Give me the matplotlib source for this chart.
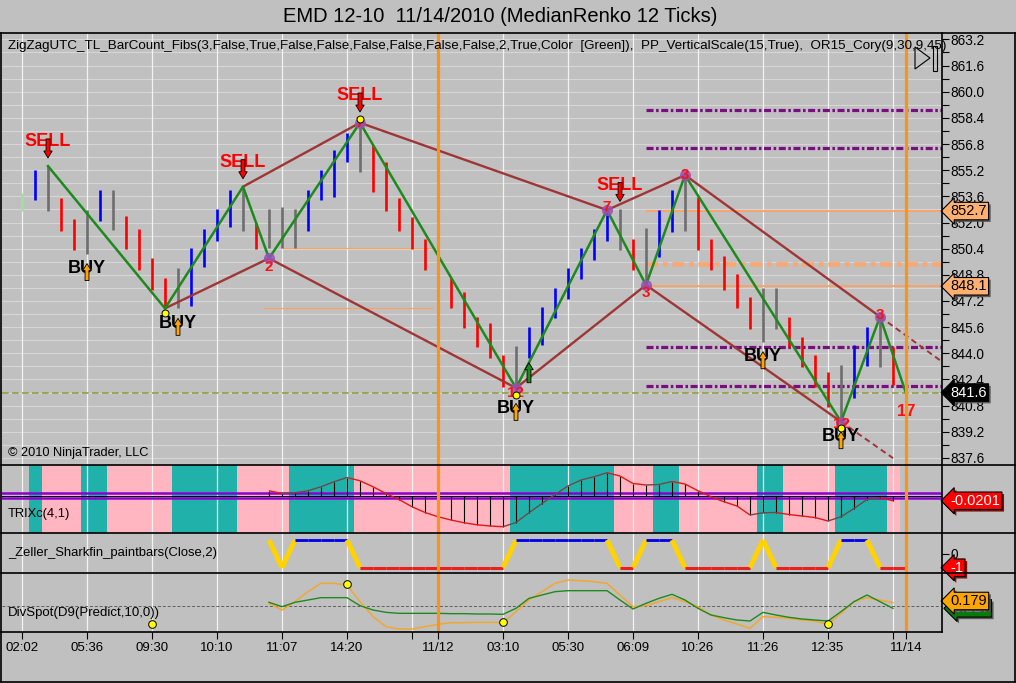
import matplotlib
matplotlib.use("Agg")
import matplotlib.pyplot as plt
import matplotlib.patheffects as pe
from matplotlib.lines import Line2D
from matplotlib.patches import Rectangle, Polygon
from matplotlib.collections import LineCollection
import numpy as np

plt.rcParams["font.family"] = ["Liberation Sans", "DejaVu Sans"]

W, H = 1016, 683
BG = "#C0C0C0"

# ---- price bars (MedianRenko), one entry per bar ----
bar_dir = ["g", "b", "n", "r", "r", "n", "b", "n", "r", "r",
           "r", "r", "n", "b", "b", "b", "b", "n", "r", "n",
           "n", "n", "b", "b", "b", "b", "n", "r", "r", "r",
           "r", "r", "r", "r", "r", "r", "r", "r", "n", "b",
           "b", "b", "b", "b", "b", "b", "n", "r", "n", "b",
           "b", "n", "r", "r", "r", "r", "r", "n", "n", "r",
           "r", "r", "r", "n", "b", "b", "n", "r", "r"]
bar_high = [853.8, 855.2, 855.46, 853.48, 852.2, 852.76, 853.99, 854.0, 852.4, 851.6,
            849.85, 848.62, 849.2, 850.42, 851.6, 852.8, 853.99, 854.19, 851.95, 852.8,
            852.97, 852.8, 854.0, 855.2, 856.43, 857.5, 858.27, 856.74, 855.72, 853.48,
            852.36, 851.0, 850.32, 848.59, 847.77, 846.24, 845.83, 843.9, 844.45, 845.63,
            846.85, 847.98, 849.2, 850.42, 851.6, 852.8, 852.8, 851.0, 851.64, 852.76,
            854.0, 855.0, 853.58, 851.0, 849.95, 848.84, 847.46, 848.01, 848.01, 846.24,
            845.02, 843.9, 842.87, 843.28, 844.51, 845.63, 846.34, 844.4, 843.9]
bar_low = [852.7, 853.35, 852.72, 851.5, 850.32, 850.1, 852.09, 851.54, 850.36, 849.1,
           847.87, 846.75, 846.75, 846.9, 849.26, 850.87, 851.74, 851.5, 850.36, 850.42,
           850.42, 850.42, 851.5, 853.37, 853.54, 855.72, 855.1, 853.88, 852.72, 851.5,
           850.36, 849.1, 847.87, 846.75, 845.53, 844.37, 843.69, 841.96, 841.55, 843.73,
           844.51, 846.14, 847.3, 848.53, 849.7, 850.87, 850.32, 849.1, 848.08, 849.9,
           851.44, 851.5, 850.32, 849.1, 847.87, 846.75, 845.47, 844.71, 845.47, 844.37,
           843.18, 841.96, 840.73, 839.82, 841.25, 843.22, 843.18, 842.06, 841.55]

# zigzag pivots
zz_idx = [2, 11, 17, 19, 26, 38, 45, 48, 51, 63, 66, 68]
zz_price = [855.45, 846.75, 854.19, 849.81, 858.1, 841.88, 852.76, 848.18, 854.9, 839.82, 846.24, 841.57]
tl_high_idx = [17, 26, 45, 51, 66]
tl_high_price = [854.19, 858.1, 852.76, 854.9, 846.24]
tl_low_idx = [11, 19, 38, 48, 63]
tl_low_price = [846.75, 849.81, 841.88, 848.18, 839.82]

# pivot bar counts
cnt_idx = [19, 26, 38, 45, 48, 51, 63, 66, 68]
cnt_price = [849.81, 858.1, 841.88, 852.76, 848.18, 854.9, 839.82, 846.24, 841.57]
cnt_text = ["2", "7", "12", "7", "3", "3", "12", "3", "17"]
cnt_dy = [-9, 0, -5, 3, -8, 0, -2, 2, -18]

sell_idx = [2, 17, 26, 46]
buy_idx = [5, 12, 38, 57, 63]
dot_idx = [11, 26, 38, 63]
dot_price = [846.45, 858.3, 841.45, 839.45]

# levels
or_lvls = [852.7, 848.1]
or_mid = 849.46
purple_lvls = [858.88, 856.54, 844.37, 842.02]
early_lvls = [850.42, 846.75]
last_price = 841.6

# ---- TRIXc(4,1), bars 19..67 ----
trix = [0.020, 0.009, 0.012, 0.020, 0.036, 0.056, 0.073, 0.060, 0.036, 0.009,
        -0.015, -0.044, -0.067, -0.084, -0.097, -0.108, -0.116, -0.121, -0.124, -0.107,
        -0.068, -0.031, 0.005, 0.039, 0.063, 0.076, 0.092, 0.079, 0.049, 0.043,
        0.045, 0.057, 0.047, 0.020, -0.004, -0.024, -0.041, -0.077, -0.068, -0.067,
        -0.075, -0.081, -0.087, -0.101, -0.084, -0.051, -0.015, -0.008, -0.020]
trix_start = 19
trix_shade = ["x", "t", "p", "p", "p", "t", "t", "p", "p", "p",
              "p", "p", "t", "t", "t", "t", "t", "p", "p", "p",
              "p", "t", "t", "t", "t", "t", "p", "p", "p", "p",
              "p", "p", "p", "p", "p", "p", "p", "p", "t", "t",
              "t", "t", "t", "t", "t", "t", "p", "p", "p", "t",
              "t", "p", "p", "p", "p", "p", "p", "t", "t", "p",
              "p", "p", "p", "t", "t", "t", "t", "p", "x"]

# ---- Sharkfin, bars 19..68 ----
shark = [1, -1, 1, 1, 1, 1, 1, -1, -1, -1,
         -1, -1, -1, -1, -1, -1, -1, -1, -1, 1,
         1, 1, 1, 1, 1, 1, 1, -1, -1, 1,
         1, 1, -1, -1, -1, -1, -1, -1, 1, -1,
         -1, -1, -1, -1, 1, 1, 1, -1, -1, -1]
shark_start = 19

# ---- DivSpot, bars 19..67 ----
div_green = [0.20, -0.06, 0.20, 0.34, 0.48, 0.48, 0.48, 0.0, -0.26, -0.40,
             -0.46, -0.46, -0.46, -0.46, -0.48, -0.48, -0.50, -0.50, -0.52, -0.16,
             0.44, 0.64, 0.84, 0.90, 0.90, 0.90, 0.90, 0.34, -0.20, 0.14,
             0.44, 0.68, 0.34, -0.16, -0.56, -0.72, -0.86, -0.92, -0.40, -0.56,
             -0.70, -0.80, -0.86, -0.92, -0.36, 0.24, 0.64, 0.24, -0.16]
div_orange = [0.14, -0.26, 0.24, 0.84, 1.34, 1.34, 1.24, 0.24, -0.66, -1.26,
              -1.40, -1.40, -1.26, -1.12, -1.02, -1.02, -1.00, -1.00, -1.02, -0.36,
              0.34, 0.84, 1.34, 1.54, 1.50, 1.44, 1.34, 0.64, -0.06, 0.0,
              0.24, 0.48, 0.24, -0.06, -0.56, -0.86, -1.10, -1.36, -0.66, -0.70,
              -0.76, -0.86, -0.92, -1.12, -0.46, 0.24, 0.48, 0.34, 0.18]
div_start = 19
div_dot_idx = [10, 25, 37, 62]
div_dot_val = [-1.12, 1.28, -1.0, -1.12]

# ---- time axis ----
tick_idx = [0, 5, 10, 15, 20, 25, 30, 32, 37, 42, 47, 52, 57, 62, 67, 68]
tick_lbl = ["02:02", "05:36", "09:30", "10:10", "11:07", "14:20", "", "11/12",
            "03:10", "05:30", "06:09", "10:26", "11:26", "12:35", "", "11/14"]
grid_idx = [0, 5, 10, 15, 20, 25, 30, 37, 42, 47, 52, 57, 62, 67]
session_idx = [32, 68]

fig = plt.figure(figsize=(W / 100, H / 100), dpi=100, facecolor=BG)


def box(x0, y0, x1, y1):
    return [x0 / W, 1 - y1 / H, (x1 - x0) / W, (y1 - y0) / H]


XL = ((2 - 22) / 13, (942 - 22) / 13)
ax = fig.add_axes(box(2, 33, 942, 465))
axt = fig.add_axes(box(2, 465, 942, 533))
axs = fig.add_axes(box(2, 533, 942, 573))
axd = fig.add_axes(box(2, 573, 942, 632))
for a in (ax, axt, axs, axd):
    a.set_facecolor(BG)
    a.set_xlim(*XL)
    for s in a.spines.values():
        s.set_visible(False)
    a.vlines(grid_idx, 0, 1, transform=a.get_xaxis_transform(), color="#F2F2F2", lw=0.9, zorder=1)
    for k in session_idx:
        a.axvline(k, color="#F7941D", lw=2.3, zorder=9)
    a.yaxis.tick_right()
    a.tick_params(axis="x", which="both", bottom=False, labelbottom=False)

# ---- price panel ----
ax.set_ylim(837.17, 863.59)
ax.set_yticks(np.arange(837.6, 863.3, 1.6))
ax.set_yticks(np.arange(838.4, 863.3, 1.6), minor=True)
ax.set_yticklabels(["%.1f" % v for v in np.arange(837.6, 863.3, 1.6)])
ax.tick_params(axis="y", which="both", direction="out", length=5, width=0.8, labelsize=9.8, pad=1)
ax.grid(True, axis="y", which="both", color="#D6D6D6", lw=0.8, zorder=0)
ax.set_axisbelow(True)

col = {"g": "#9EE09E", "b": "#0000FF", "r": "#FF0000", "n": "#6E6E6E"}
idx = np.arange(len(bar_high))
ax.vlines(idx, bar_low, bar_high, colors=[col[c] for c in bar_dir], lw=1.9, zorder=3)

# levels
ax.axhline(last_price, color="#8FA040", lw=1.2, ls=(0, (4, 2)), zorder=2)
ax.hlines(early_lvls[0], 20, 31.6, color="#FFA060", lw=0.8, zorder=2)
ax.hlines(early_lvls[1], 18.5, 31.6, color="#FFA060", lw=0.8, zorder=2)
ax.hlines(or_lvls, 48, XL[1], color="#FFA060", lw=1.3, zorder=2)
ax.hlines(or_mid, 48, XL[1], color="#F8A875", lw=3.4, ls=(0, (2.5, 1, 1, 1)), zorder=2)
ax.hlines(purple_lvls, 48, XL[1], color="#7A0E80", lw=2.3, ls=(0, (2.2, 0.8, 0.8, 0.8)), zorder=2)

# trend lines with dashed projections
ax.plot(tl_high_idx, tl_high_price, color="#A03535", lw=1.7, zorder=4)
ax.plot(tl_low_idx, tl_low_price, color="#A03535", lw=1.7, zorder=4)
sh = (tl_high_price[-1] - tl_high_price[-2]) / (tl_high_idx[-1] - tl_high_idx[-2])
sl = (tl_low_price[-1] - tl_low_price[-2]) / (tl_low_idx[-1] - tl_low_idx[-2])
ax.plot([tl_high_idx[-1], XL[1]], [tl_high_price[-1], tl_high_price[-1] + sh * (XL[1] - tl_high_idx[-1])],
        color="#A03535", lw=1.4, ls=(0, (3, 2)), zorder=4)
ax.plot([tl_low_idx[-1], 67], [tl_low_price[-1], tl_low_price[-1] + sl * (67 - tl_low_idx[-1])],
        color="#A03535", lw=1.4, ls=(0, (3, 2)), zorder=4)

ax.plot(zz_idx, zz_price, color="#1E8A1E", lw=1.8, zorder=5)
ax.plot(zz_idx[3:11], zz_price[3:11], "o", ms=8, color="#9A4FB8", alpha=0.85, mec="none", zorder=6)
for k, p, t, dy in zip(cnt_idx, cnt_price, cnt_text, cnt_dy):
    ax.annotate(t, (k, p), xytext=(0, dy * 0.72), textcoords="offset points", ha="center", va="center",
                color="#FF1010", fontsize=12 if t == "17" else 11, fontweight="bold", zorder=7)


def arrow(k, p, tail_px, tip_px, fc):
    ax.annotate("", xy=(k, p), xytext=(0, tail_px * 0.72), textcoords="offset points",
                arrowprops=dict(arrowstyle="simple,head_length=0.5,head_width=0.6,tail_width=0.28",
                                fc=fc, ec="black", lw=0.6, shrinkA=0, shrinkB=abs(tip_px) * 0.72),
                zorder=8)


for k in sell_idx:
    ax.annotate("SELL", (k, bar_high[k]), xytext=(0, 24 * 0.72), textcoords="offset points", ha="center",
                va="center", color="#FF0000", fontsize=13, fontweight="bold", zorder=7)
    arrow(k, bar_high[k], 27, 8, "#FF0000")
for k in buy_idx:
    ax.annotate("BUY", (k, bar_low[k]), xytext=(0, -15 * 0.72), textcoords="offset points", ha="center",
                va="center", color="black", fontsize=13, fontweight="bold", zorder=7)
    arrow(k, bar_low[k], -27, 10, "#FFA500")
arrow(39, bar_low[39], -25, 5, "#1E8A1E")
ax.plot(dot_idx, dot_price, "o", ms=5, mfc="#FFFF00", mec="black", mew=0.7, zorder=9)

ax.text(6 / 940, 1 - 13 / 432,
        "ZigZagUTC_TL_BarCount_Fibs(3,False,True,False,False,False,False,False,False,2,True,Color  [Green]),"
        "  PP_VerticalScale(15,True),  OR15_Cory(9,30,9,45)",
        transform=ax.transAxes, fontsize=9.6, va="center", ha="left", zorder=10)
ax.text(6 / 940, 12 / 432, "\u00a9 2010 NinjaTrader, LLC", transform=ax.transAxes, fontsize=9.2,
        va="center", ha="left", zorder=10)


def tag(a, val, text, fc, tc, dx=6, shadow="#505050"):
    t = a.annotate(text, (1, val), xycoords=("axes fraction", "data"), xytext=(dx, 0),
                   textcoords="offset points", ha="left", va="center", fontsize=10.5, color=tc,
                   annotation_clip=False, zorder=20,
                   bbox=dict(boxstyle="larrow,pad=0.12", fc=fc, ec="black", lw=0.8))
    t.get_bbox_patch().set_path_effects([pe.SimplePatchShadow(offset=(1.5, -1.5), shadow_rgbFace=shadow,
                                                              alpha=0.9), pe.Normal()])


tag(ax, 852.7, "852.7", "#FFB070", "black")
tag(ax, 848.1, "848.1", "#FFB070", "black")
tag(ax, last_price, "841.6", "black", "white")

# ---- TRIX panel ----
axt.set_ylim(-0.149, 0.123)
for k, s in enumerate(trix_shade):
    if s != "x":
        axt.axvspan(k - 0.5, k + 0.5, color="#20B2AA" if s == "t" else "#FFB6C1", lw=0, zorder=0.5)
axt.axhline(0.01, color="#8A00D0", lw=1.8, zorder=3)
axt.axhline(-0.01, color="#8A00D0", lw=1.8, zorder=3)
axt.axhline(0, color="black", lw=0.7, zorder=3)
tx = np.arange(trix_start, trix_start + len(trix))
axt.vlines(tx, 0, trix, color="black", lw=0.8, zorder=4)
segs = [[(tx[i], trix[i]), (tx[i + 1], trix[i + 1])] for i in range(len(trix) - 1)]
scol = ["#704848" if trix[i + 1] > trix[i] else "#E01818" for i in range(len(trix) - 1)]
axt.add_collection(LineCollection(segs, colors=scol, lw=1.0, zorder=5))
axt.set_yticks([])
axt.text(6 / 940, 19 / 68, "TRIXc(4,1)", transform=axt.transAxes, fontsize=9.3, va="center", zorder=10)
tag(axt, trix[-1], "-0.0201", "#FF0000", "white", shadow="#700000")

# ---- Sharkfin panel ----
axs.set_ylim(-1.383, 1.505)
sx = np.arange(shark_start, shark_start + len(shark))
for i in range(len(shark) - 1):
    a0, a1 = shark[i], shark[i + 1]
    if a0 == a1 == 1:
        c, w = "#0000E8", 2.0
    elif a0 == a1 == -1:
        c, w = "#E82020", 2.2
    else:
        c, w = "#FFD200", 3.6
    axs.plot([sx[i], sx[i + 1]], [a0, a1], color=c, lw=w, solid_capstyle="butt", zorder=4)
axs.set_yticks([0])
axs.set_yticklabels(["0"])
axs.tick_params(axis="y", direction="out", length=5, labelsize=9.8, pad=1)
axs.text(6 / 940, 20 / 40, "_Zeller_Sharkfin_paintbars(Close,2)", transform=axs.transAxes, fontsize=9.4,
         va="center", zorder=10)
tag(axs, -1, "-1", "#FF0000", "white", shadow="#700000")

# ---- DivSpot panel ----
axd.set_ylim(-1.58, 1.96)
axd.axhline(0, color="#606060", lw=0.7, ls=(0, (3, 2)), zorder=2)
dx_ = np.arange(div_start, div_start + len(div_green))
axd.plot(dx_, div_orange, color="#F0A830", lw=1.1, zorder=4)
axd.plot(dx_, div_green, color="#1E8A1E", lw=1.0, zorder=5)
axd.plot(div_dot_idx, div_dot_val, "o", ms=5.5, mfc="#FFFF00", mec="black", mew=0.7, zorder=6)
axd.set_yticks([])
axd.text(6 / 940, 19 / 59, "DivSpot(D9(Predict,10,0))", transform=axd.transAxes, fontsize=9.5,
         va="center", zorder=10)
tag(axd, div_green[-1], "0.227", "#0A7A0A", "white", dx=8)
tag(axd, div_orange[-1] + 0.1, "0.179", "#FFA500", "black")

axd.set_xticks(tick_idx)
axd.set_xticklabels(tick_lbl)
axd.tick_params(axis="x", which="both", bottom=True, labelbottom=True, direction="out", length=5,
                width=0.8, labelsize=9.5, pad=2)

# ---- frame lines and title ----
def fline(x0, y0, x1, y1, lw=1.2):
    fig.add_artist(Line2D([x0 / W, x1 / W], [1 - y0 / H, 1 - y1 / H], color="black", lw=lw,
                          transform=fig.transFigure))


fline(1, 33, 1015, 33)
fline(1, 682, 1015, 682)
fline(1, 33, 1, 682)
fline(1015, 33, 1015, 682)
fline(942, 33, 942, 632)
for yy in (465, 533, 573):
    fline(1, yy, 1015, yy)
fline(1, 632, 942, 632)

fig.add_artist(Polygon([(915 / W, 1 - 47 / H), (915 / W, 1 - 69 / H), (930 / W, 1 - 58 / H)],
                       closed=True, fill=False, ec="black", lw=0.8, transform=fig.transFigure))
fig.add_artist(Rectangle((933 / W, 1 - 71 / H), 4 / W, 25 / H, fill=False, ec="black", lw=0.8,
                         transform=fig.transFigure))

fig.text(500 / W, 1 - 17 / H, "EMD 12-10  11/14/2010 (MedianRenko 12 Ticks)", ha="center", va="center",
         fontsize=14.5)

fig.savefig("out.png", dpi=100, facecolor=BG)
